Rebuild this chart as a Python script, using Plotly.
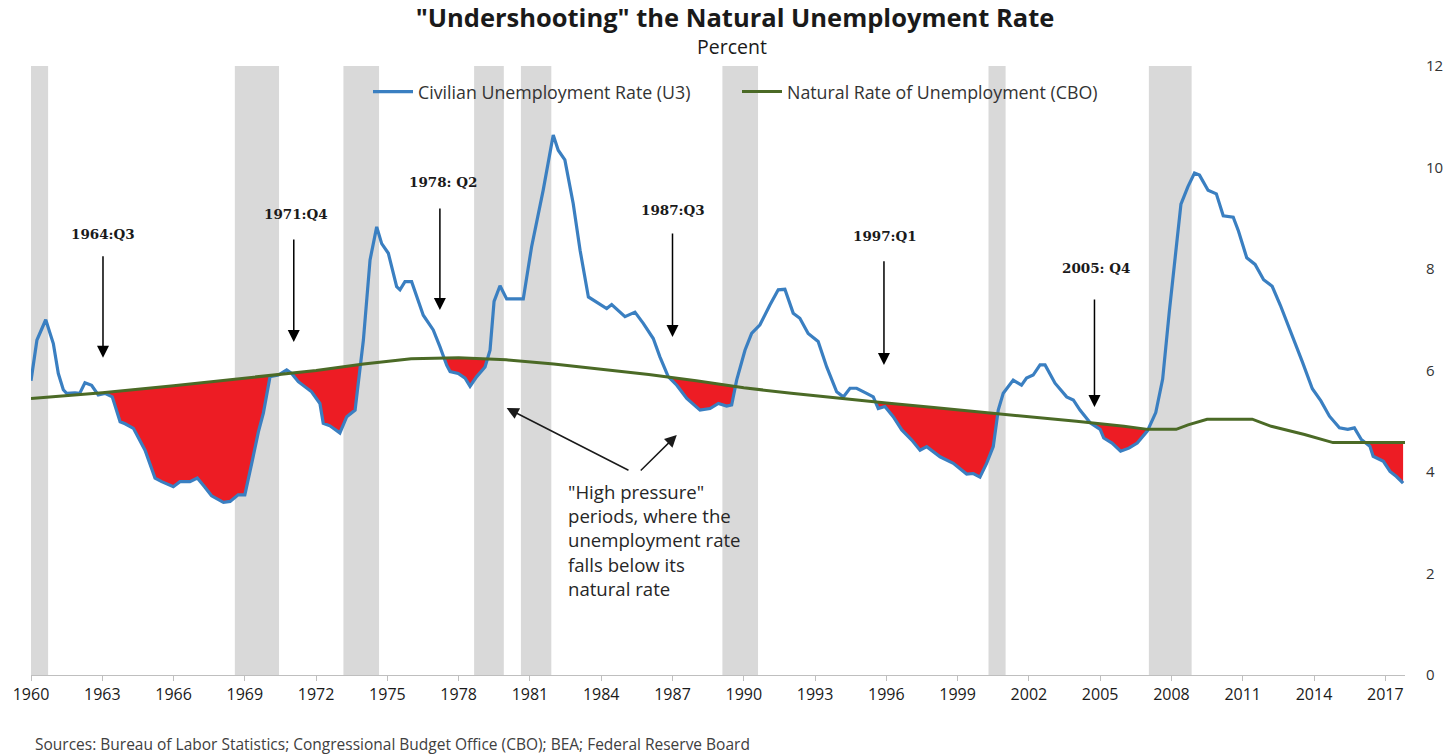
import numpy as np
import plotly.graph_objects as go

# ---------------- data (x in axis years, as plotted) ----------------
u3_year = [1960.0, 1960.25, 1960.62, 1960.94, 1961.15, 1961.36, 1961.5, 1961.85, 1962.05, 1962.27,
           1962.55, 1962.83, 1963.11, 1963.42, 1963.75, 1963.96, 1964.31, 1964.8, 1965.22, 1965.5,
           1965.99, 1966.27, 1966.69, 1967.0, 1967.32, 1967.6, 1968.1, 1968.38, 1968.72, 1969.0,
           1969.29, 1969.57, 1969.78, 1970.06, 1970.41, 1970.76, 1970.97, 1971.25, 1971.81, 1972.16,
           1972.3, 1972.58, 1973.0, 1973.29, 1973.64, 1973.78, 1973.99, 1974.27, 1974.55, 1974.76,
           1975.04, 1975.39, 1975.53, 1975.74, 1976.02, 1976.51, 1976.93, 1977.21, 1977.5, 1977.64,
           1977.98, 1978.27, 1978.48, 1978.76, 1979.11, 1979.32, 1979.49, 1979.74, 1980.02, 1980.72,
           1981.07, 1981.56, 1981.98, 1982.19, 1982.47, 1982.82, 1983.11, 1983.46, 1983.88, 1984.23,
           1984.44, 1985.0, 1985.42, 1985.77, 1986.19, 1986.47, 1986.82, 1987.18, 1987.6, 1988.16,
           1988.58, 1988.93, 1989.28, 1989.49, 1989.7, 1990.05, 1990.33, 1990.68, 1991.1, 1991.45,
           1991.73, 1992.08, 1992.36, 1992.71, 1993.13, 1993.49, 1993.91, 1994.19, 1994.47, 1994.75,
           1995.17, 1995.45, 1995.66, 1995.94, 1996.29, 1996.65, 1997.07, 1997.42, 1997.7, 1998.26,
           1998.82, 1999.38, 1999.66, 1999.94, 2000.22, 2000.5, 2000.71, 2000.92, 2001.34, 2001.69,
           2001.9, 2002.18, 2002.47, 2002.68, 2003.1, 2003.59, 2003.87, 2004.15, 2004.58, 2005.0,
           2005.15, 2005.5, 2005.86, 2006.21, 2006.56, 2006.99, 2007.34, 2007.63, 2007.91, 2008.26,
           2008.4, 2008.69, 2008.97, 2009.18, 2009.54, 2009.89, 2010.18, 2010.6, 2010.82, 2011.17,
           2011.52, 2011.88, 2012.24, 2012.58, 2013.08, 2013.51, 2013.93, 2014.29, 2014.65, 2015.07,
           2015.42, 2015.7, 2015.99, 2016.35, 2016.49, 2016.92, 2017.2, 2017.47, 2017.75]
u3_rate = [5.8, 6.6, 7.0, 6.53, 5.94, 5.62, 5.55, 5.56, 5.55, 5.76,
           5.71, 5.52, 5.55, 5.48, 4.99, 4.95, 4.86, 4.43, 3.88, 3.81,
           3.71, 3.81, 3.81, 3.88, 3.70, 3.53, 3.40, 3.42, 3.55, 3.55,
           4.17, 4.79, 5.16, 5.88, 5.91, 6.01, 5.94, 5.78, 5.58, 5.35,
           4.96, 4.91, 4.77, 5.09, 5.22, 5.75, 6.6, 8.18, 8.83, 8.5,
           8.31, 7.65, 7.59, 7.75, 7.75, 7.09, 6.8, 6.47, 6.1, 5.98,
           5.94, 5.85, 5.69, 5.88, 6.07, 6.4, 7.36, 7.67, 7.41, 7.41,
           8.44, 9.56, 10.64, 10.34, 10.15, 9.29, 8.37, 7.45, 7.32, 7.22,
           7.3, 7.06, 7.15, 6.93, 6.63, 6.27, 5.88, 5.71, 5.45, 5.22,
           5.25, 5.35, 5.3, 5.32, 5.81, 6.4, 6.73, 6.9, 7.29, 7.59,
           7.6, 7.13, 7.03, 6.73, 6.57, 6.07, 5.58, 5.48, 5.65, 5.65,
           5.55, 5.48, 5.25, 5.29, 5.09, 4.83, 4.63, 4.43, 4.5, 4.3,
           4.17, 3.96, 3.97, 3.9, 4.17, 4.5, 5.22, 5.55, 5.81, 5.71,
           5.85, 5.91, 6.11, 6.11, 5.75, 5.48, 5.42, 5.22, 4.97, 4.84,
           4.67, 4.57, 4.41, 4.47, 4.57, 4.81, 5.17, 5.83, 7.16, 8.75,
           9.28, 9.62, 9.89, 9.85, 9.55, 9.48, 9.05, 9.02, 8.75, 8.22,
           8.09, 7.79, 7.66, 7.29, 6.7, 6.17, 5.64, 5.4, 5.1, 4.87,
           4.84, 4.87, 4.64, 4.51, 4.31, 4.21, 4.01, 3.91, 3.78]

nat_year = [1960, 1963, 1966, 1969, 1972, 1974, 1976, 1978, 1980, 1982, 1984, 1986, 1988,
            1990, 1992, 1994, 1996, 1998, 2000, 2002, 2004, 2006, 2007, 2008.2, 2008.7,
            2009.5, 2011.4, 2012.2, 2013.6, 2014.8, 2017.83]
nat_rate = [5.45, 5.56, 5.70, 5.85, 6.00, 6.13, 6.23, 6.25, 6.21, 6.13, 6.03, 5.92, 5.80,
            5.66, 5.55, 5.45, 5.36, 5.27, 5.18, 5.10, 5.00, 4.90, 4.84, 4.84, 4.93,
            5.04, 5.04, 4.90, 4.74, 4.58, 4.58]

recession_start = [1960.0, 1968.58, 1973.15, 1978.65, 1980.62, 1989.1, 2000.3, 2007.05]
recession_end = [1960.72, 1970.44, 1974.65, 1979.9, 1981.9, 1990.6, 2001.02, 2008.85]

x_tick_years = list(range(1960, 2018, 3))
y_tick_values = [0, 2, 4, 6, 8, 10, 12]

callout_labels = ["1964:Q3", "1971:Q4", "1978: Q2", "1987:Q3", "1997:Q1", "2005: Q4"]

# ---------------- layout helpers (positions) ----------------
callout_x = [1963.03, 1971.06, 1977.21, 1987.0, 1995.9, 2004.76]
callout_text_x = [1963.03, 1971.15, 1977.34, 1987.0, 1995.94, 2004.84]
callout_text_y = [8.69, 9.08, 9.71, 9.16, 8.65, 8.02]
callout_tail_y = [8.28, 8.61, 9.22, 8.73, 8.18, 7.43]
callout_tip_y = [6.25, 6.56, 7.19, 6.66, 6.11, 5.28]

BLUE = "#3A7FC1"
GREEN = "#4B6A26"
RED = "#ED1C24"
GRAY = "#D9D9D9"
FONT = "Open Sans"

fig = go.Figure()

# red "high pressure" fill between natural rate and unemployment where U3 < natural
grid = np.union1d(np.arange(u3_year[0], u3_year[-1], 0.01), u3_year)
u_i = np.interp(grid, u3_year, u3_rate)
n_i = np.interp(grid, nat_year, nat_rate)
low = np.minimum(u_i, n_i)
fig.add_trace(go.Scatter(x=grid, y=n_i, mode="lines", line=dict(width=0, color=RED),
                         showlegend=False, hoverinfo="skip"))
fig.add_trace(go.Scatter(x=grid, y=low, mode="lines", line=dict(width=0, color=RED),
                         fill="tonexty", fillcolor=RED, showlegend=False, hoverinfo="skip"))

fig.add_trace(go.Scatter(x=u3_year, y=u3_rate, mode="lines",
                         name="Civilian Unemployment Rate (U3)",
                         line=dict(color=BLUE, width=3.2), legend="legend"))
fig.add_trace(go.Scatter(x=nat_year, y=nat_rate, mode="lines",
                         name="Natural Rate of Unemployment (CBO)",
                         line=dict(color=GREEN, width=3), legend="legend2"))

for s, e in zip(recession_start, recession_end):
    fig.add_shape(type="rect", xref="x", yref="y", x0=s, x1=e, y0=0, y1=12,
                  fillcolor=GRAY, line=dict(width=0), layer="below")

anns = []
for lab, x, tx, ty, tail, tip in zip(callout_labels, callout_x, callout_text_x,
                                      callout_text_y, callout_tail_y, callout_tip_y):
    anns.append(dict(x=tx, y=ty, xref="x", yref="y", text="<b>" + lab + "</b>",
                     showarrow=False, font=dict(family="DejaVu Serif", size=13.5, color="#1a1a1a")))
    anns.append(dict(x=x, y=tip, ax=x, ay=tail, xref="x", yref="y", axref="x", ayref="y",
                     text="", showarrow=True, arrowhead=2, arrowsize=1.6, arrowwidth=1.5,
                     arrowcolor="black"))

# high pressure arrows
anns.append(dict(x=1980.02, y=5.26, ax=1985.21, ay=4.02, xref="x", yref="y", axref="x", ayref="y",
                 text="", showarrow=True, arrowhead=2, arrowsize=1.6, arrowwidth=1.5, arrowcolor="#1a1a1a"))
anns.append(dict(x=1987.18, y=4.73, ax=1985.6, ay=4.0, xref="x", yref="y", axref="x", ayref="y",
                 text="", showarrow=True, arrowhead=2, arrowsize=1.6, arrowwidth=1.5, arrowcolor="#1a1a1a"))
anns.append(dict(x=1982.52, y=3.9, xref="x", yref="y", xanchor="left", yanchor="top", align="left",
                 text='"High pressure"<br>periods, where the<br>unemployment rate<br>falls below its<br>natural rate',
                 showarrow=False, font=dict(family=FONT, size=18.6, color="#262626")))

# subtitle
anns.append(dict(x=0.510, y=1.0328, xref="paper", yref="paper", xanchor="center", yanchor="middle",
                 text="Percent", showarrow=False, font=dict(family=FONT, size=19.5, color="#1a1a1a")))
# source
anns.append(dict(x=0.0015, y=-0.113, xref="paper", yref="paper", xanchor="left", yanchor="middle",
                 text="Sources: Bureau of Labor Statistics; Congressional Budget Office (CBO); BEA; Federal Reserve Board",
                 showarrow=False, font=dict(family=FONT, size=15.5, color="#404040")))

fig.update_layout(
    width=1449, height=754,
    margin=dict(l=31, r=44, t=66, b=79, autoexpand=False),
    plot_bgcolor="white", paper_bgcolor="white",
    title=dict(text='<b>"Undershooting" the Natural Unemployment Rate</b>',
               x=0.5124, xref="paper", xanchor="center", y=1 - 18 / 754, yanchor="middle",
               font=dict(family=FONT, size=25.5, color="#1a1a1a")),
    font=dict(family=FONT, color="#262626"),
    xaxis=dict(range=[1960, 2017.83], tickvals=x_tick_years, ticktext=[str(v) for v in x_tick_years],
               ticks="outside", ticklen=5, tickcolor="#BFBFBF", showline=True, linecolor="#BFBFBF",
               linewidth=1, showgrid=False, zeroline=False, automargin=False,
               tickfont=dict(family=FONT, size=16, color="#1a1a1a")),
    yaxis=dict(range=[0, 12], tickvals=y_tick_values, side="right", showgrid=False, zeroline=False,
               showline=False, ticks="", ticklabelstandoff=20, automargin=False,
               tickfont=dict(family=FONT, size=15, color="#333333")),
    legend=dict(x=(368 - 31) / 1374, y=0.9573, xanchor="left", yanchor="middle", orientation="h",
                itemwidth=40, bgcolor="rgba(0,0,0,0)",
                font=dict(family=FONT, size=17.8, color="#333333")),
    legend2=dict(x=(737 - 31) / 1374, y=0.9573, xanchor="left", yanchor="middle", orientation="h",
                 itemwidth=40, bgcolor="rgba(0,0,0,0)",
                 font=dict(family=FONT, size=17.8, color="#333333")),
    annotations=anns,
    showlegend=True,
)

fig.write_html("out.html")
